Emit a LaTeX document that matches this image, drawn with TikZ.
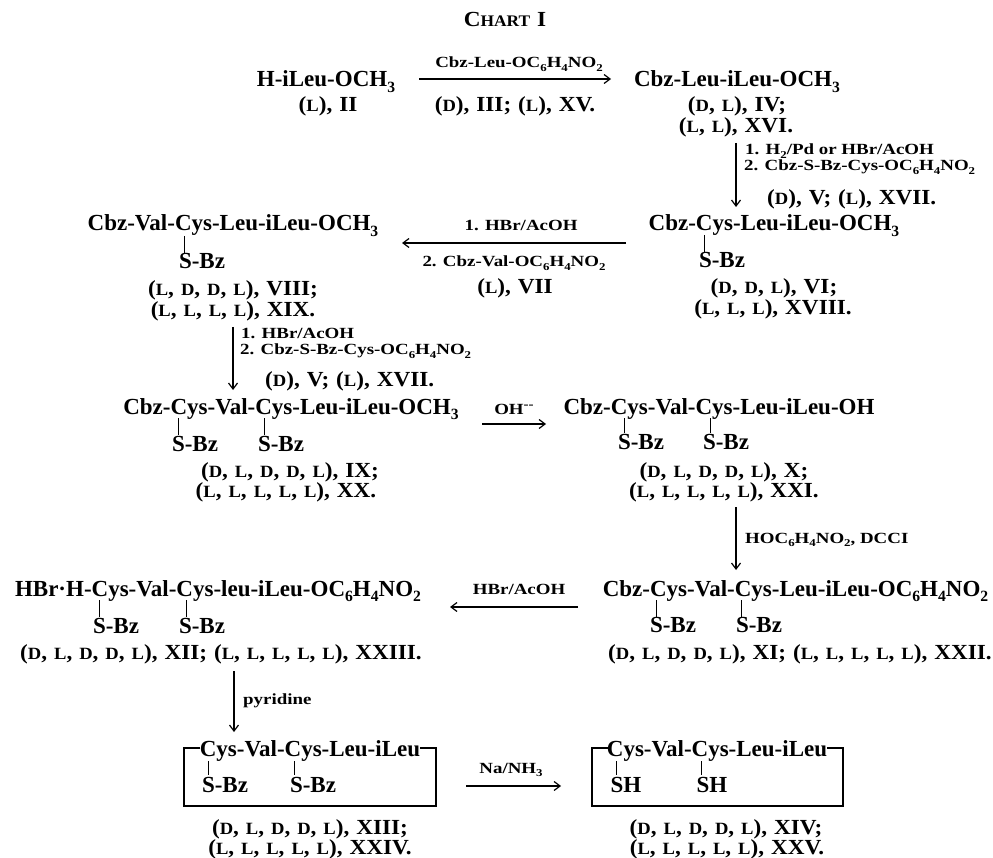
\documentclass[tikz,border=0pt]{standalone}
\usepackage{fontspec}
\setmainfont{Liberation Serif}
\newfontfamily\conffont[FakeStretch=1.08,WordSpace=1.2]{Liberation Serif}
\newfontfamily\reagfont[FakeStretch=1.22]{Liberation Serif}
\usetikzlibrary{arrows.meta}
\newcommand\Sb[1]{\raisebox{-0.22em}{\scalebox{.68}{#1}}}
\newcommand\Dc{\scalebox{.8}{D}}
\newcommand\Lc{\scalebox{.8}{L}}
\tikzset{
 chem/.style={anchor=base,inner sep=0pt,font=\bfseries\fontsize{23}{23}\selectfont},
 conf/.style={anchor=base,inner sep=0pt,font=\conffont\bfseries\fontsize{21.5}{21.5}\selectfont},
 reag/.style={anchor=base,inner sep=0pt,font=\reagfont\bfseries\fontsize{15.5}{15.5}\selectfont},
 reagl/.style={reag,anchor=base west},
 confl/.style={conf,anchor=base west},
 arr/.style={line width=1.2pt,-{Straight Barb[length=6pt,width=9pt,line width=1.2pt]}},
 bond/.style={line width=1pt},
 ring/.style={line width=1.2pt}
}
\begin{document}
\begin{tikzpicture}[x=1pt,y=-1pt]
\useasboundingbox (0,0) rectangle (993,858);
\fill[white] (0,0) rectangle (993,858);
\node[conf] (title) at (505,27) {C\scalebox{.75}{HART} I};
% row 1
\node[chem] (n1) at (326,87) {H-iLeu-OCH\Sb{3}};
\node[conf] (c1) at (328,112) {(\Lc), II};
\node[reag] (r1a) at (519,68) {Cbz-Leu-OC\Sb{6}H\Sb{4}NO\Sb{2}};
\node[conf] (r1b) at (515,112) {(\Dc), III; (\Lc), XV.};
\node[chem] (n2) at (737,87) {Cbz-Leu-iLeu-OCH\Sb{3}};
\node[conf] (c2a) at (737,112) {(\Dc, \Lc), IV;};
\node[conf] (c2b) at (736,133) {(\Lc, \Lc), XVI.};
\node[reagl] (r2a) at (745,155) {1. H\Sb{2}/Pd or HBr/AcOH};
\node[reagl] (r2b) at (744,171) {2. Cbz-S-Bz-Cys-OC\Sb{6}H\Sb{4}NO\Sb{2}};
\node[confl] (r2c) at (767,205) {(\Dc), V; (\Lc), XVII.};
% row 2
\node[chem] (n3) at (774,231) {Cbz-Cys-Leu-iLeu-OCH\Sb{3}};
\node[chem] (s3) at (722,268) {S-Bz};
\node[conf] (c3a) at (774,294) {(\Dc, \Dc, \Lc), VI;};
\node[conf] (c3b) at (773,315) {(\Lc, \Lc, \Lc), XVIII.};
\node[reag] (r3a) at (521,231) {1. HBr/AcOH};
\node[reag] (r3b) at (514,267) {2. Cbz-Val-OC\Sb{6}H\Sb{4}NO\Sb{2}};
\node[conf] (r3c) at (515,294) {(\Lc), VII};
\node[chem] (n5) at (233,231) {Cbz-Val-Cys-Leu-iLeu-OCH\Sb{3}};
\node[chem] (s5) at (202,269) {S-Bz};
\node[conf] (c5a) at (233,296) {(\Lc, \Dc, \Dc, \Lc), VIII;};
\node[conf] (c5b) at (233,317) {(\Lc, \Lc, \Lc, \Lc), XIX.};
\node[reagl] (r5a) at (241,339) {1. HBr/AcOH};
\node[reagl] (r5b) at (240,355) {2. Cbz-S-Bz-Cys-OC\Sb{6}H\Sb{4}NO\Sb{2}};
\node[confl] (r5c) at (265,387) {(\Dc), V; (\Lc), XVII.};
% row 3
\node[chem] (n6) at (291,414) {Cbz-Cys-Val-Cys-Leu-iLeu-OCH\Sb{3}};
\node[chem] (s6a) at (195,451) {S-Bz};
\node[chem] (s6b) at (281,451) {S-Bz};
\node[conf] (c6a) at (290,477) {(\Dc, \Lc, \Dc, \Dc, \Lc), IX;};
\node[conf] (c6b) at (286,497) {(\Lc, \Lc, \Lc, \Lc, \Lc), XX.};
\node[reag] (oh) at (514,414) {OH\raisebox{.35em}{\scalebox{.8}{--}}};
\node[chem] (n7) at (719,414) {Cbz-Cys-Val-Cys-Leu-iLeu-OH};
\node[chem] (s7a) at (641,449) {S-Bz};
\node[chem] (s7b) at (726,449) {S-Bz};
\node[conf] (c7a) at (724,477) {(\Dc, \Lc, \Dc, \Dc, \Lc), X;};
\node[conf] (c7b) at (724,497) {(\Lc, \Lc, \Lc, \Lc, \Lc), XXI.};
\node[reagl] (r7) at (745,543) {HOC\Sb{6}H\Sb{4}NO\Sb{2}, DCCI};
% row 4
\node[chem] (n8) at (795.5,596) {Cbz-Cys-Val-Cys-Leu-iLeu-OC\Sb{6}H\Sb{4}NO\Sb{2}};
\node[chem] (s8a) at (673,632) {S-Bz};
\node[chem] (s8b) at (759,632) {S-Bz};
\node[conf] (c8) at (800,659) {(\Dc, \Lc, \Dc, \Dc, \Lc), XI; (\Lc, \Lc, \Lc, \Lc, \Lc), XXII.};
\node[reag] (r8) at (519,594) {HBr/AcOH};
\node[chem] (n9) at (218,596) {HBr·H-Cys-Val-Cys-leu-iLeu-OC\Sb{6}H\Sb{4}NO\Sb{2}};
\node[chem] (s9a) at (116,633) {S-Bz};
\node[chem] (s9b) at (202,633) {S-Bz};
\node[conf] (c9) at (221,659) {(\Dc, \Lc, \Dc, \Dc, \Lc), XII; (\Lc, \Lc, \Lc, \Lc, \Lc), XXIII.};
\node[reagl] (r9) at (243,704) {pyridine};
% row 5
\node[chem] (m1) at (310,756) {Cys-Val-Cys-Leu-iLeu};
\node[chem] (s1a) at (225,792) {S-Bz};
\node[chem] (s1b) at (313,792) {S-Bz};
\node[conf] (d1a) at (310,834) {(\Dc, \Lc, \Dc, \Dc, \Lc), XIII;};
\node[conf] (d1b) at (310,854) {(\Lc, \Lc, \Lc, \Lc, \Lc), XXIV.};
\node[reag] (na) at (511,773) {Na/NH\Sb{3}};
\node[chem] (m2) at (717,756) {Cys-Val-Cys-Leu-iLeu};
\node[chem] (s2a) at (626,792) {SH};
\node[chem] (s2b) at (712,792) {SH};
\node[conf] (d2a) at (726,834) {(\Dc, \Lc, \Dc, \Dc, \Lc), XIV;};
\node[conf] (d2b) at (727,854) {(\Lc, \Lc, \Lc, \Lc, \Lc), XXV.};
% arrows
\draw[arr] ([shift={(93,-8)}]n1.base) -- ([shift={(-126,-8)}]n2.base);
\draw[arr] ([shift={(0,10)}]c2b.base) -- ([shift={(-38,-24)}]n3.base);
\draw[arr] ([shift={(-148,12)}]n3.base) -- ([shift={(169,12)}]n5.base);
\draw[arr] ([shift={(0,10)}]c5b.base) -- ([shift={(-58,-24)}]n6.base);
\draw[arr] ([shift={(191,10)}]n6.base) -- ([shift={(-173,10)}]n7.base);
\draw[arr] ([shift={(12,10)}]c7b.base) -- ([shift={(-59.5,-26)}]n8.base);
\draw[arr] ([shift={(-217.5,11)}]n8.base) -- ([shift={(232,11)}]n9.base);
\draw[arr] ([shift={(13,12)}]c9.base) -- ([shift={(-76,-24)}]m1.base);
\draw[arr] ([shift={(156,30)}]m1.base) -- ([shift={(-156,30)}]m2.base);
% bonds
\draw[bond] ([shift={(-70,4)}]n3.base) -- ([shift={(-18,-15)}]s3.base);
\draw[bond] ([shift={(-49,5)}]n5.base) -- ([shift={(-18,-15)}]s5.base);
\draw[bond] ([shift={(-113,4)}]n6.base) -- ([shift={(-17,-16)}]s6a.base);
\draw[bond] ([shift={(-27,4)}]n6.base) -- ([shift={(-17,-16)}]s6b.base);
\draw[bond] ([shift={(-95,4)}]n7.base) -- ([shift={(-17,-16)}]s7a.base);
\draw[bond] ([shift={(-9,4)}]n7.base) -- ([shift={(-16,-16)}]s7b.base);
\draw[bond] ([shift={(-139.5,4)}]n8.base) -- ([shift={(-17,-15)}]s8a.base);
\draw[bond] ([shift={(-54.5,4)}]n8.base) -- ([shift={(-18,-15)}]s8b.base);
\draw[bond] ([shift={(-118.5,4)}]n9.base) -- ([shift={(-16.5,-16)}]s9a.base);
\draw[bond] ([shift={(-32,4)}]n9.base) -- ([shift={(-16,-16)}]s9b.base);
\draw[bond] ([shift={(-102,5)}]m1.base) -- ([shift={(-17,-17)}]s1a.base);
\draw[bond] ([shift={(-16,5)}]m1.base) -- ([shift={(-19,-17)}]s1b.base);
\draw[bond] ([shift={(-101,5)}]m2.base) -- ([shift={(-10,-17)}]s2a.base);
\draw[bond] ([shift={(-16,5)}]m2.base) -- ([shift={(-11,-17)}]s2b.base);
% ring brackets
\draw[ring] ([shift={(-110,-8)}]m1.base) -- ++(-16,0) -- ++(0,58) -- ++(252,0) -- ++(0,-58) -- ++(-16,0);
\draw[ring] ([shift={(-109,-8)}]m2.base) -- ++(-16,0) -- ++(0,58) -- ++(251,0) -- ++(0,-58) -- ++(-16,0);
\end{tikzpicture}
\end{document}
